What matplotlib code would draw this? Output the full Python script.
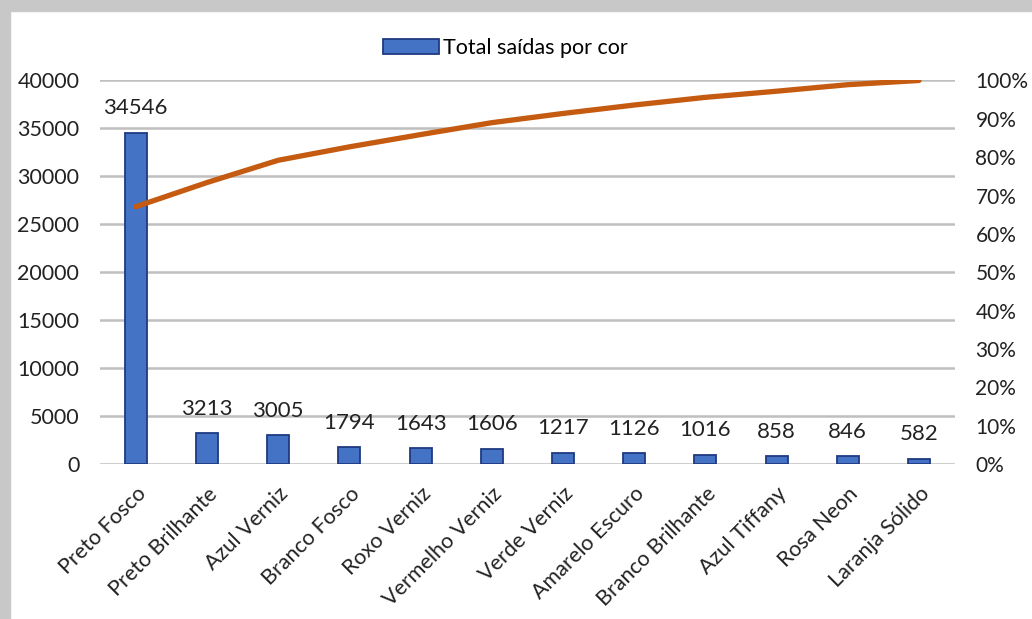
import numpy as np
import matplotlib.pyplot as plt
from matplotlib.patches import Rectangle
from matplotlib.ticker import FuncFormatter

# Pareto de saídas por cor
cores = ["Preto Fosco", "Preto Brilhante", "Azul Verniz", "Branco Fosco",
         "Roxo Verniz", "Vermelho Verniz", "Verde Verniz", "Amarelo Escuro",
         "Branco Brilhante", "Azul Tiffany", "Rosa Neon", "Laranja Sólido"]
saidas = [34546, 3213, 3005, 1794, 1643, 1606, 1217, 1126, 1016, 858, 846, 582]
acumulado = [67.1, 73.4, 79.2, 82.7, 85.9, 89.0, 91.4, 93.6, 95.6, 97.2, 98.9, 100.0]

plt.rcParams['font.family'] = ['Lato', 'DejaVu Sans']

fig = plt.figure(figsize=(10.32, 6.19), dpi=100)
fig.patch.set_facecolor('white')

# moldura cinza (sombra) no topo e à esquerda
fig.patches.append(Rectangle((0, 0.983), 1, 0.017, transform=fig.transFigure,
                             color='#c8c8c8', zorder=0))
fig.patches.append(Rectangle((0, 0), 0.010, 1, transform=fig.transFigure,
                             color='#c8c8c8', zorder=0))

ax = fig.add_axes([0.097, 0.25, 0.828, 0.62])
x = np.arange(len(cores))

ax.bar(x, saidas, width=0.31, color='#4472C4', edgecolor='#1F3A80',
       linewidth=1.3, zorder=3, label='Total saídas por cor')
for xi, v in zip(x, saidas):
    ax.text(xi, v + 1500, str(v), ha='center', va='bottom', fontsize=16,
            color='#222222')

ax.set_xlim(-0.5, len(cores) - 0.5)
ax.set_ylim(0, 40000)
ax.set_yticks(np.arange(0, 40001, 5000))
ax.yaxis.grid(True, color='#bfbfbf', linewidth=1.8, zorder=0)
ax.set_axisbelow(True)
for s in ax.spines.values():
    s.set_visible(False)
ax.tick_params(axis='both', length=0, labelsize=15.5, colors='#222222')
ax.tick_params(axis='y', pad=15)
ax.set_xticks(x)
ax.set_xticklabels(cores, rotation=45, ha='right', rotation_mode='anchor')
ax.tick_params(axis='x', pad=14)

ax2 = ax.twinx()
ax2.plot(x, acumulado, color='#C55A11', linewidth=3.8, solid_capstyle='round',
         zorder=5)
ax2.set_ylim(0, 100)
ax2.set_yticks(np.arange(0, 101, 10))
ax2.yaxis.set_major_formatter(FuncFormatter(lambda v, p: f"{v:.0f}%"))
ax2.tick_params(axis='y', length=0, labelsize=15, colors='#222222', pad=15)
for s in ax2.spines.values():
    s.set_visible(False)

fig.legend(loc='upper center', bbox_to_anchor=(0.49, 0.97), frameon=False,
           fontsize=15.5, handlelength=2.6, handleheight=0.7, handletextpad=0.2)

fig.savefig('out.png', dpi=100)
